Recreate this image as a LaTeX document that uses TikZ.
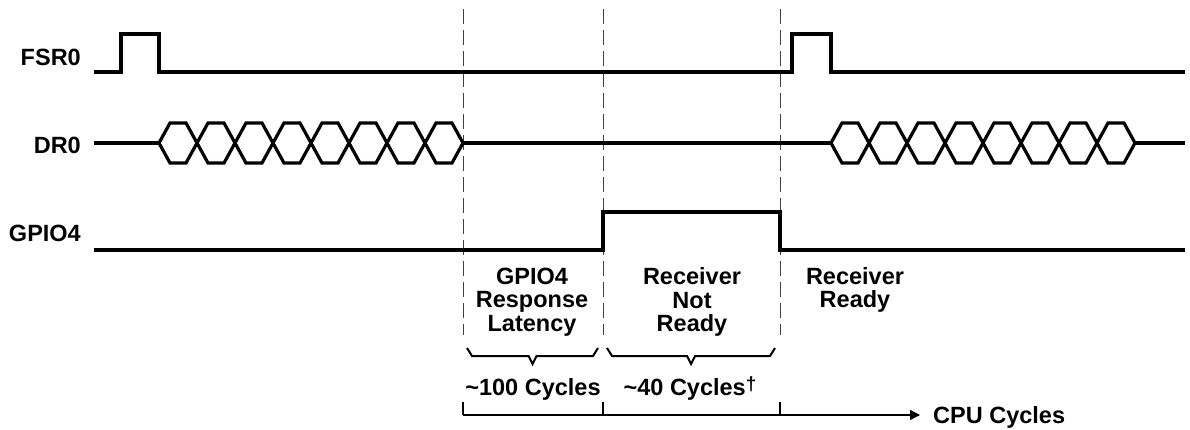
\documentclass[tikz,border=0pt]{standalone}
\usepackage{fontspec}
\setmainfont{Liberation Sans}
\usetikzlibrary{arrows.meta, calc}

\begin{document}
\begin{tikzpicture}[x=1pt, y=-1pt, >={Triangle[length=10pt, width=10pt]},
    signal/.style={line width=3.2pt, line join=miter},
    marker/.style={line width=1pt, black!75, dash pattern=on 15pt off 6pt},
    brace/.style={line width=2pt},
    lbl/.style={font=\fontsize{23.5}{23.5}\selectfont\bfseries, inner sep=0pt, align=center}]
    \useasboundingbox (0,0) rectangle (1190,430);

    % Zeitmarken
    \coordinate (t1) at (463,0);
    \coordinate (t2) at (603,0);
    \coordinate (t3) at (780,0);

    % Signalnamen
    \node[lbl, anchor=east] (fsr) at (81,57) {FSR0};
    \node[lbl, anchor=east] (dr) at (81,145) {DR0};
    \node[lbl, anchor=east] (gpio) at (81,233) {GPIO4};

    % gestrichelte Marken
    \foreach \t in {t1,t2,t3}
        \draw[marker] ($(\t)+(0,9)$) -- ($(\t)+(0,335)$);

    % FSR0
    \draw[signal] (94,72) -- (121,72) -- (121,34) -- (159,34) -- (159,72)
        -- (792,72) -- (792,34) -- (831,34) -- (831,72) -- (1185,72);

    % DR0 mit Datenbus
    \draw[signal] (94,143) -- (159,143);
    \draw[signal] (463,143) -- (831,143);
    \draw[signal] (1135,143) -- (1185,143);
    \foreach \x in {159,197,...,425,831,869,...,1097}
        \draw[signal] (\x,143) -- ++(11,-20) -- ++(16,0) -- ++(11,20)
            -- ++(-11,20) -- ++(-16,0) -- cycle;

    % GPIO4
    \draw[signal] (94,250) -- ($(t2)+(0,250)$) -- ($(t2)+(0,212)$)
        -- ($(t3)+(0,212)$) -- ($(t3)+(0,250)$) -- (1185,250);

    % Phasen
    \node[lbl] (lat) at (532,302) {GPIO4\\Response\\Latency};
    \node[lbl] (notrdy) at (692,302) {Receiver\\Not\\Ready};
    \node[lbl] (rdy) at (855,290) {Receiver\\Ready};

    % Klammern
    \foreach \a/\b in {467/598, 607/775}{
        \pgfmathsetmacro\m{(\a+\b)/2}
        \draw[brace] (\a,348) -- (\a+5,356) -- (\m-4,356) -- (\m,364)
            -- (\m+4,356) -- (\b-5,356) -- (\b,348);
    }
    \node[lbl] (c100) at (533,389) {\textasciitilde100 Cycles};
    \node[lbl] (c40) at (690,389) {\textasciitilde40 Cycles\raisebox{5pt}{\fontsize{19}{19}\selectfont\textdagger}};

    % Zeitachse
    \coordinate (cpu) at (920,415);
    \draw[line width=1.3pt, ->] ($(t1)+(0,415)$) -- (cpu);
    \foreach \t in {t1,t2,t3}
        \draw[line width=1.1pt] ($(\t)+(0,402)$) -- ($(\t)+(0,415)$);
    \node[lbl, anchor=west] (cpulbl) at ($(cpu)+(13,2)$) {CPU Cycles};
\end{tikzpicture}
\end{document}
